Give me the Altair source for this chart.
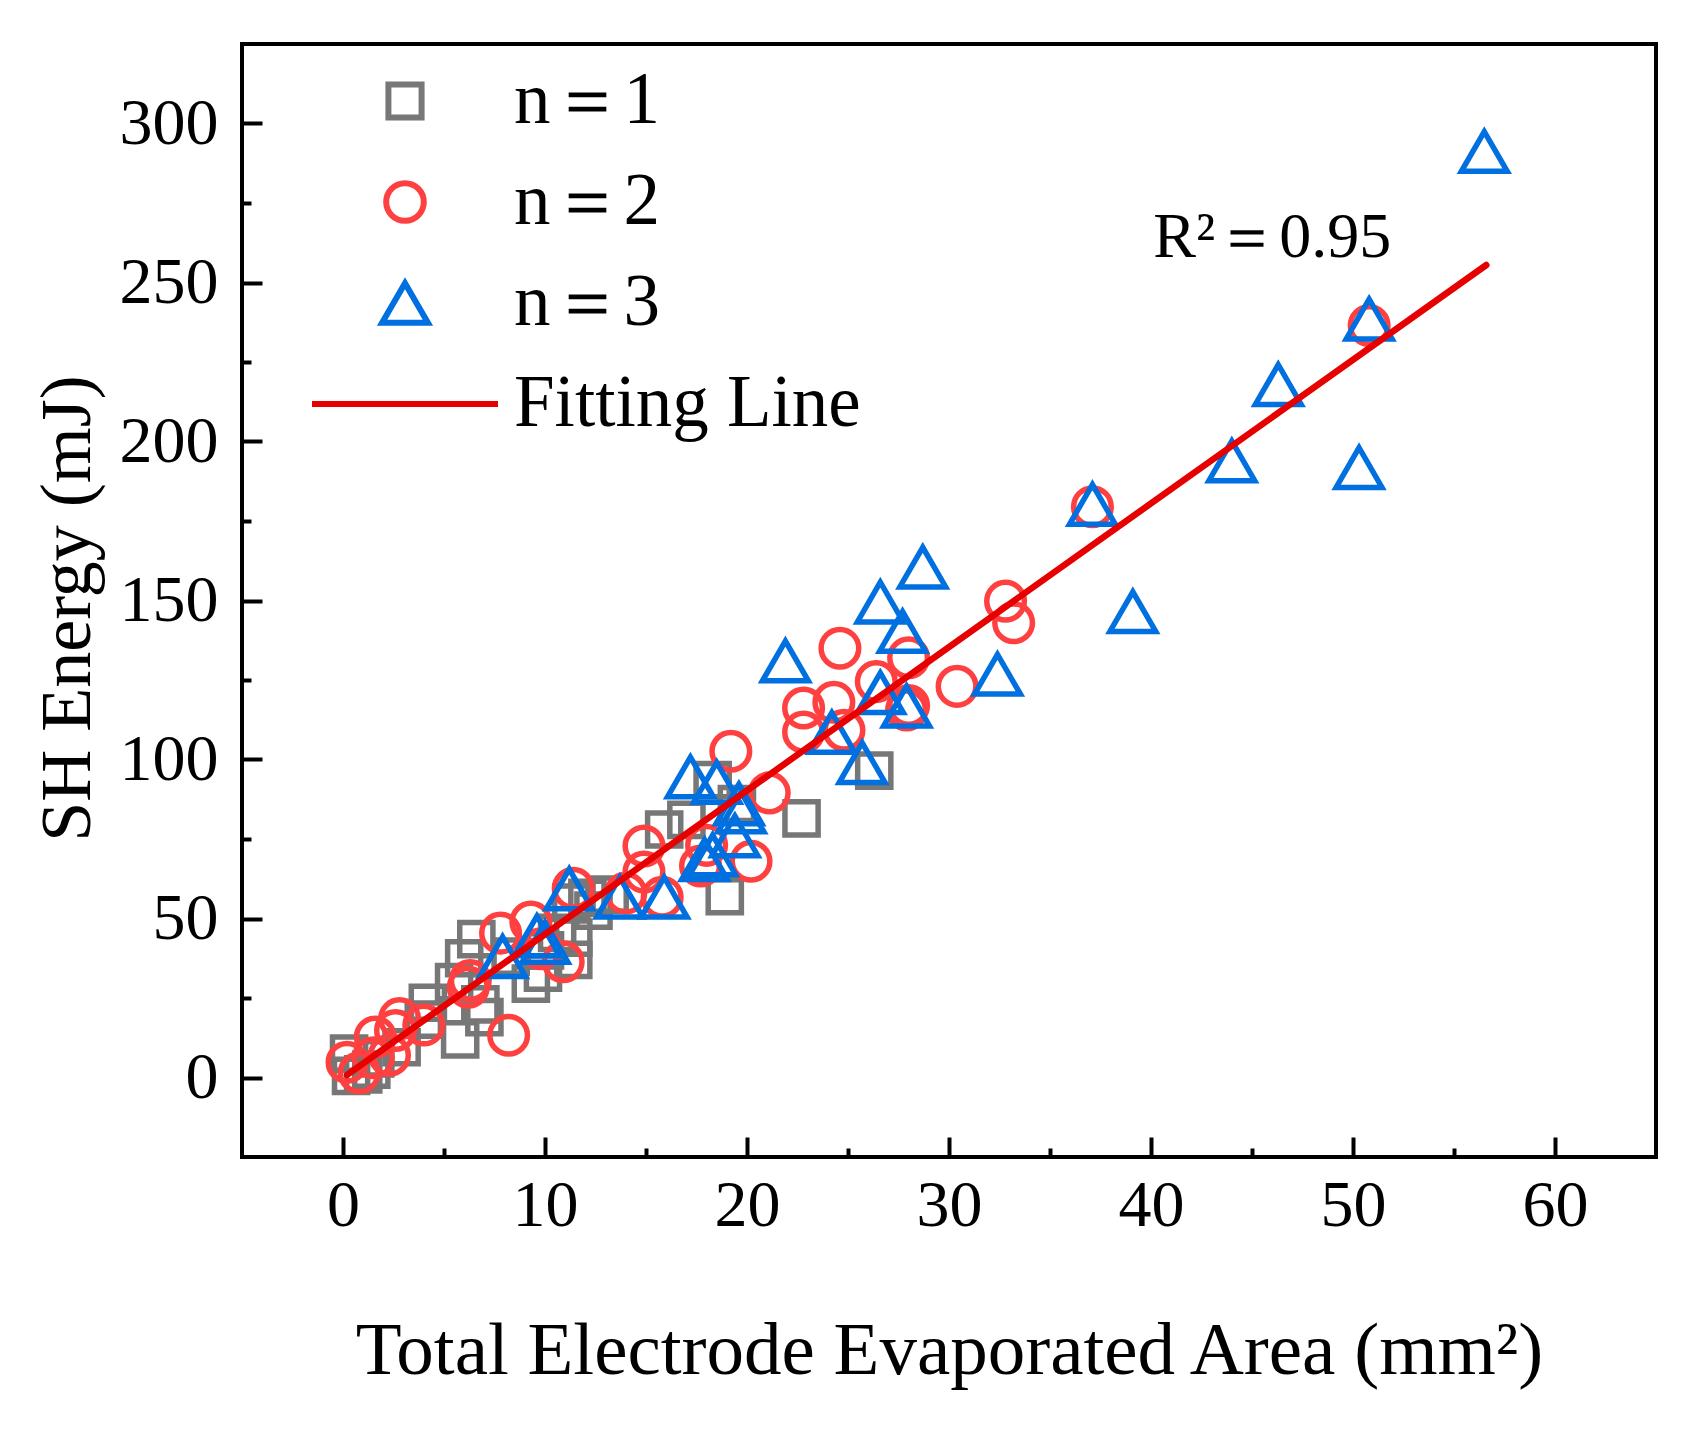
import altair as alt
import pandas as pd

# n = 1 (grey squares)
x_n1 = [0.3, 0.4, 1.0, 1.4, 1.6, 2.9, 4.0, 4.2, 5.5, 5.8, 6.0, 6.6, 6.8, 7.0, 8.3, 9.3,
        9.9, 10.0, 10.6, 11.3, 11.4, 11.4, 12.1, 12.4, 13.2, 15.9, 17.0, 18.3, 18.9, 19.5,
        22.7, 26.3]
y_n1 = [7.5, 0.5, 1.0, 2.5, 6.0, 9.5, 18.2, 23.5, 30.0, 12.0, 37.5, 43.5, 23.0, 19.0, 38.0,
        29.5, 33.0, 40.0, 45.5, 55.0, 37.0, 44.0, 56.5, 52.5, 57.5, 78.0, 81.0, 93.5, 57.0,
        86.0, 81.5, 96.5]

# n = 2 (red circles)
x_n2 = [0.2, 0.8, 1.5, 1.6, 2.3, 2.6, 2.8, 4.0, 6.2, 6.3, 7.8, 8.2, 9.3, 9.8, 10.9, 11.4,
        14.0, 14.9, 14.9, 15.8, 17.7, 18.0, 20.2, 21.1, 19.2, 22.8, 22.8, 24.3, 24.6, 24.8,
        26.4, 27.9, 28.0, 28.0, 30.4, 32.8, 33.2, 37.1, 50.8]
y_n2 = [4.8, 1.5, 6.2, 12.7, 7.0, 14.8, 18.5, 16.5, 28.4, 30.5, 45.4, 13.3, 48.9, 40.5,
        36.4, 59.5, 58.0, 64.6, 72.8, 56.7, 66.5, 73.0, 68.0, 89.5, 102.6, 108.6, 116.2,
        118.0, 135.0, 109.2, 124.5, 115.6, 117.0, 132.0, 123.0, 149.8, 143.0, 179.5, 236.5]

# n = 3 (blue triangles)
x_n3 = [7.9, 9.6, 10.0, 11.2, 13.7, 15.9, 17.2, 17.9, 18.3, 18.5, 19.4, 19.7, 19.6, 21.9,
        24.2, 25.7, 26.6, 26.6, 27.7, 27.9, 28.7, 32.4, 37.1, 39.1, 44.0, 46.3, 50.3, 50.8,
        56.5]
y_n3 = [38.0, 44.5, 42.5, 59.3, 56.7, 56.7, 94.5, 68.5, 70.0, 92.8, 76.0, 83.5, 86.0, 131.0,
        108.5, 99.0, 149.5, 121.0, 140.3, 116.8, 160.5, 126.8, 180.2, 146.5, 193.9, 217.9,
        191.8, 238.5, 291.2]

# fitting line end points
fit_x = [0.2, 56.6]
fit_y = [0.8, 255.5]

# annotation
r2_x = [46.0]
r2_y = [264.0]
r2_text = ["R²＝0.95"]

series_names = ["n＝1", "n＝2", "n＝3", "Fitting Line"]
series_colors = ["#777777", "#ff4040", "#0070e0", "#e60000"]
series_shapes = ["square", "circle", "triangle-up", "stroke"]
series_sizes = [1100, 1414, 2100, 34596]

x_major = [0, 10, 20, 30, 40, 50, 60]
x_minor = [5, 15, 25, 35, 45, 55]
y_major = [0, 50, 100, 150, 200, 250, 300]
y_minor = [25, 75, 125, 175, 225, 275]

FONT = "Liberation Serif"

points = pd.DataFrame(
    {
        "area": x_n1 + x_n2 + x_n3,
        "energy": y_n1 + y_n2 + y_n3,
        "series": [series_names[0]] * len(x_n1)
        + [series_names[1]] * len(x_n2)
        + [series_names[2]] * len(x_n3),
    }
)
fit_frame = pd.DataFrame({"area": fit_x, "energy": fit_y})
r2_frame = pd.DataFrame({"area": r2_x, "energy": r2_y, "label": r2_text})

x_scale = alt.Scale(domain=[-5, 65], nice=False, zero=False)
y_scale = alt.Scale(domain=[-25, 325], nice=False, zero=False)

legend = alt.Legend(
    title=None,
    orient="none",
    legendX=67,
    legendY=27,
    padding=0,
    labelFont=FONT,
    labelFontSize=73,
    labelColor="black",
    labelOffset=13,
    labelLimit=800,
    symbolStrokeWidth=6,
    symbolOpacity=1,
    clipHeight=60,
    rowPadding=28,
)

# major ticks point inward: axis pulled 20px inside, ticks reach back to the frame
x_major_axis = alt.Axis(
    orient="bottom",
    values=x_major,
    offset=-20,
    tickSize=20,
    tickWidth=4,
    tickColor="black",
    domain=False,
    grid=False,
    labelFont=FONT,
    labelFontSize=66,
    labelColor="black",
    labelPadding=16,
    title="Total Electrode Evaporated Area (mm²)",
    titleFont=FONT,
    titleFontSize=75,
    titleFontWeight="normal",
    titleColor="black",
    titleBaseline="alphabetic",
    titleY=236,
)
y_major_axis = alt.Axis(
    orient="left",
    values=y_major,
    offset=-20,
    tickSize=20,
    tickWidth=4,
    tickColor="black",
    domain=False,
    grid=False,
    labelFont=FONT,
    labelFontSize=66,
    labelColor="black",
    labelPadding=24,
    title="SH Energy (mJ)",
    titleFont=FONT,
    titleFontSize=72,
    titleFontWeight="normal",
    titleColor="black",
    titleBaseline="alphabetic",
    titleX=-173,
    titleY=564,
)
x_minor_axis = alt.Axis(
    orient="bottom",
    values=x_minor,
    offset=-9,
    tickSize=9,
    tickWidth=4,
    tickColor="black",
    domain=False,
    grid=False,
    labels=False,
    title=None,
)
y_minor_axis = alt.Axis(
    orient="left",
    values=y_minor,
    offset=-9,
    tickSize=9,
    tickWidth=4,
    tickColor="black",
    domain=False,
    grid=False,
    labels=False,
    title=None,
)

scatter = (
    alt.Chart(points)
    .mark_point(filled=False, strokeWidth=5.5, opacity=1)
    .encode(
        x=alt.X("area:Q", scale=x_scale, axis=x_major_axis),
        y=alt.Y("energy:Q", scale=y_scale, axis=y_major_axis),
        color=alt.Color(
            "series:N", scale=alt.Scale(domain=series_names, range=series_colors), legend=legend
        ),
        shape=alt.Shape(
            "series:N", scale=alt.Scale(domain=series_names, range=series_shapes), legend=legend
        ),
        size=alt.Size(
            "series:N",
            scale=alt.Scale(type="ordinal", domain=series_names, range=series_sizes),
            legend=legend,
        ),
    )
)

fit_line = (
    alt.Chart(fit_frame)
    .mark_line(color="#e60000", strokeWidth=6.5, strokeCap="round")
    .encode(
        x=alt.X("area:Q", scale=x_scale, axis=x_minor_axis),
        y=alt.Y("energy:Q", scale=y_scale, axis=y_minor_axis),
    )
)

r2_label = (
    alt.Chart(r2_frame)
    .mark_text(font=FONT, fontSize=64, color="black", align="center", baseline="middle")
    .encode(
        x=alt.X("area:Q", scale=x_scale, axis=None),
        y=alt.Y("energy:Q", scale=y_scale, axis=None),
        text="label:N",
    )
)

chart = (
    alt.layer(scatter, fit_line, r2_label)
    .resolve_axis(x="independent", y="independent")
    .properties(
        width=1414,
        height=1113,
        autosize=alt.AutoSizeParams(type="none"),
        padding={"left": 234, "top": 36, "right": 30, "bottom": 250},
    )
    .configure_view(stroke="black", strokeWidth=4)
)

chart.save("out.html", embed_options={"renderer": "svg", "actions": False})
